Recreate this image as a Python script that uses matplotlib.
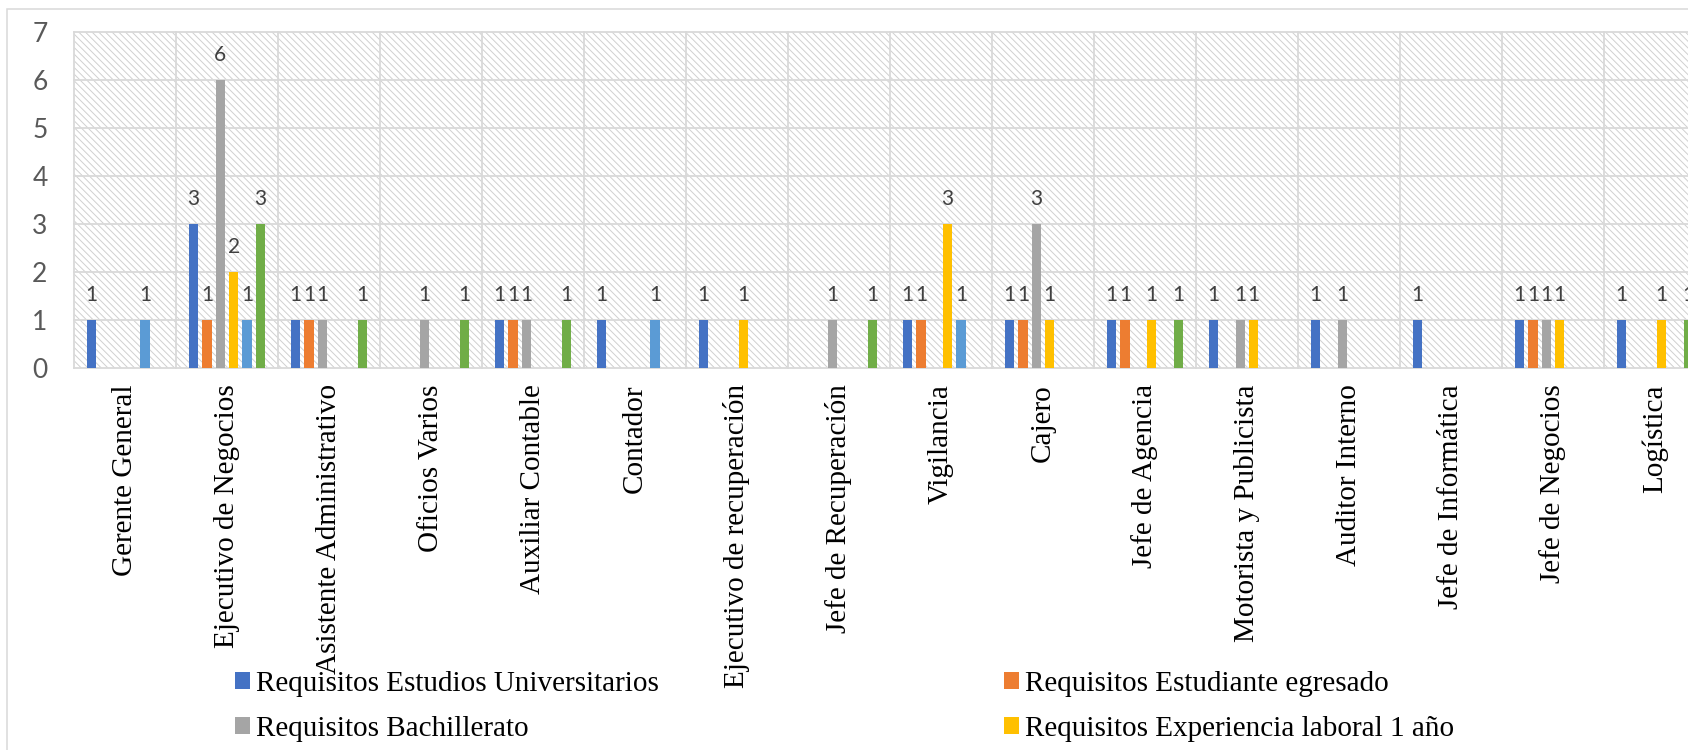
import numpy as np
import matplotlib
matplotlib.use("Agg")
import matplotlib.pyplot as plt
from matplotlib.patches import Rectangle, Patch

# ---- data -------------------------------------------------------------
categories = [
    "Gerente General", "Ejecutivo de Negocios", "Asistente Administrativo",
    "Oficios Varios", "Auxiliar Contable", "Contador",
    "Ejecutivo de recuperación", "Jefe de Recuperación", "Vigilancia",
    "Cajero", "Jefe de Agencia", "Motorista y Publicista", "Auditor Interno",
    "Jefe de Informática", "Jefe de Negocios", "Logística",
]

estudios_universitarios = [1, 3, 1, 0, 1, 1, 1, 0, 1, 1, 1, 1, 1, 1, 1, 1]
estudiante_egresado     = [0, 1, 1, 0, 1, 0, 0, 0, 1, 1, 1, 0, 0, 0, 1, 0]
bachillerato            = [0, 6, 1, 1, 1, 0, 0, 1, 0, 3, 0, 1, 1, 0, 1, 0]
experiencia_1_anio      = [0, 2, 0, 0, 0, 0, 1, 0, 3, 1, 1, 1, 0, 0, 1, 1]
experiencia_2_anios     = [1, 1, 0, 0, 0, 1, 0, 0, 1, 0, 0, 0, 0, 0, 0, 0]
conocimientos_tecnicos  = [0, 3, 1, 1, 1, 0, 0, 1, 0, 0, 1, 0, 0, 0, 0, 1]

series_names = [
    "Requisitos Estudios Universitarios",
    "Requisitos Estudiante egresado",
    "Requisitos Bachillerato",
    "Requisitos Experiencia laboral 1 año",
    "Requisitos Experiencia laboral 2 años",
    "Requisitos Conocimientos técnicos",
]
series_values = [estudios_universitarios, estudiante_egresado, bachillerato,
                 experiencia_1_anio, experiencia_2_anios, conocimientos_tecnicos]
colors = ["#4472C4", "#ED7D31", "#A5A5A5", "#FFC000", "#5B9BD5", "#70AD47"]

yticks = [0, 1, 2, 3, 4, 5, 6, 7]

# ---- figure -----------------------------------------------------------
W, H = 1688, 750
plt.rcParams["hatch.linewidth"] = 0.7
fig = plt.figure(figsize=(W / 100, H / 100), dpi=100)
fig.patch.set_facecolor("white")

# chart frame (runs off the right and bottom edges)
fig.patches.append(Rectangle((7.3 / W, -0.2), 1.3, (H - 9.3) / H + 0.2,
                             transform=fig.transFigure, fill=False,
                             edgecolor="#D9D9D9", linewidth=1.1, zorder=0))

n = len(categories)
cat_px = 102.0
left_px, top_px, bottom_px = 74.0, 31.7, 367.7
ax = fig.add_axes([left_px / W, (H - bottom_px) / H,
                   n * cat_px / W, (bottom_px - top_px) / H])
ax.set_xlim(-0.5, n - 0.5)
ax.set_ylim(0, 7)

# hatched plot area
ax.set_facecolor("white")
ax.add_patch(Rectangle((0, 0), 1, 1, transform=ax.transAxes,
                       facecolor="white", edgecolor="#D0D0D0",
                       hatch="\\\\\\\\\\", linewidth=0, zorder=0))

# grid: value lines and category separators
grid_col = "#D9D9D9"
for yv in yticks[1:]:
    ax.axhline(yv, color=grid_col, linewidth=1.3, zorder=1, clip_on=False)
for xb in np.arange(-0.5, n, 1.0):
    ax.axvline(xb, color=grid_col, linewidth=1.3, zorder=1, clip_on=False)

# bars
slot = 0.1307
bar_w = 0.09
x = np.arange(n)
label_font = "Lato"
for j, (vals, col) in enumerate(zip(series_values, colors)):
    offs = (j - (len(series_values) - 1) / 2) * slot
    vals = np.asarray(vals, dtype=float)
    ax.bar(x + offs, vals, width=bar_w, color=col, zorder=3,
           label=series_names[j])
    for xi, v in zip(x + offs, vals):
        if v > 0:
            ax.annotate(f"{int(v)}", (xi, v), xytext=(0, 17.5),
                        textcoords="offset points", ha="center", va="center",
                        fontsize=15, color="#404040", family=label_font,
                        zorder=4)

for side in ("top", "right", "left"):
    ax.spines[side].set_visible(False)
ax.spines["bottom"].set_color(grid_col)
ax.spines["bottom"].set_linewidth(1.3)
ax.spines["bottom"].set_zorder(2)

ax.set_yticks(yticks)
ax.tick_params(axis="y", length=0, pad=19, labelsize=19, labelcolor="#595959")
for t in ax.get_yticklabels():
    t.set_family(label_font)
ax.set_xticks(x)
ax.tick_params(axis="x", which="both", length=0, pad=12)
ax.set_xticklabels(categories, rotation=90, fontsize=21,
                   family="Liberation Serif", color="black", va="top",
                   ha="center")

# legend laid out in two columns, row by row
handles = [Patch(facecolor=c, edgecolor="none") for c in colors]
legend_kw = dict(frameon=False, prop={"family": "Liberation Serif", "size": 21},
                 handlelength=0.52, handleheight=0.52, handletextpad=0.2,
                 labelspacing=0.66, borderpad=0, borderaxespad=0,
                 loc="upper left", labelcolor="black")
col1 = [0, 2]
col2 = [1, 3]
leg1 = fig.legend([handles[i] for i in col1], [series_names[i] for i in col1],
                  bbox_to_anchor=(235 / W, 1 - 671 / H), **legend_kw)
leg2 = fig.legend([handles[i] for i in col2], [series_names[i] for i in col2],
                  bbox_to_anchor=(1004 / W, 1 - 671 / H), **legend_kw)

fig.savefig("out.png", dpi=100)
